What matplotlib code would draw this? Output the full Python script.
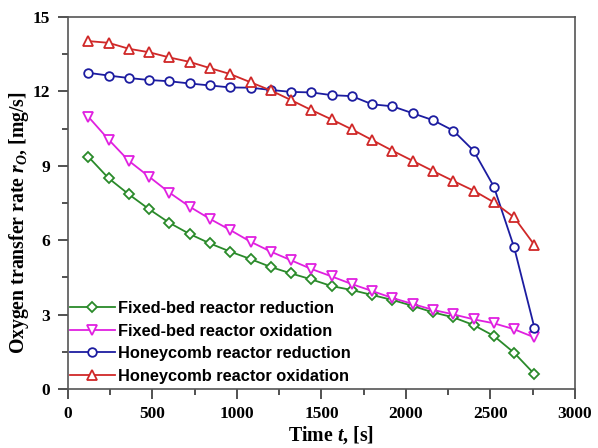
import matplotlib
matplotlib.use("Agg")
import matplotlib.pyplot as plt
from matplotlib.ticker import MultipleLocator

plt.rcParams["mathtext.fontset"] = "custom"
plt.rcParams["mathtext.it"] = "Liberation Serif:italic:bold"
plt.rcParams["mathtext.rm"] = "Liberation Serif:bold"
plt.rcParams["mathtext.bf"] = "Liberation Serif:bold"

time_s = [120, 240, 360, 480, 600, 720, 840, 960, 1080, 1200, 1320, 1440,
          1560, 1680, 1800, 1920, 2040, 2160, 2280, 2400, 2520, 2640, 2760]

fixed_red = [9.37, 8.50, 7.85, 7.25, 6.70, 6.25, 5.87, 5.54, 5.24, 4.92, 4.66, 4.42,
             4.15, 3.99, 3.79, 3.59, 3.35, 3.09, 2.89, 2.58, 2.14, 1.46, 0.60]
fixed_ox = [10.98, 10.06, 9.20, 8.56, 7.92, 7.35, 6.86, 6.41, 5.94, 5.54, 5.19, 4.84,
            4.54, 4.23, 3.95, 3.67, 3.43, 3.19, 3.01, 2.81, 2.65, 2.41, 2.08]
honey_red = [12.75, 12.64, 12.54, 12.46, 12.41, 12.32, 12.24, 12.16, 12.15, 12.06, 11.98, 11.96,
             11.85, 11.81, 11.48, 11.40, 11.12, 10.84, 10.42, 9.61, 8.16, 5.71, 2.47]
honey_ox = [14.03, 13.96, 13.72, 13.58, 13.37, 13.19, 12.94, 12.70, 12.37, 12.04, 11.65, 11.25,
            10.87, 10.47, 10.04, 9.61, 9.20, 8.79, 8.39, 8.00, 7.53, 6.92, 5.81]

labels = ["Fixed-bed reactor reduction", "Fixed-bed reactor oxidation",
          "Honeycomb reactor reduction", "Honeycomb reactor oxidation"]

fig = plt.figure(figsize=(5.98, 4.48), dpi=100)
ax = fig.add_axes([0.1137, 0.1317, 0.8478, 0.8303])

styles = [
    (fixed_red, "#2a8a2a", "D", 5.5),
    (fixed_ox, "#e020e0", "v", 7.0),
    (honey_red, "#1c1ca0", "o", 6.2),
    (honey_ox, "#d02828", "^", 7.0),
]
for (vals, col, mk, ms), lab in zip(styles, labels):
    ax.plot(time_s, vals, color=col, lw=1.3, marker=mk, ms=ms,
            mfc="white", mec=col, mew=1.3, label=lab)

ax.set_xlim(0, 3000)
ax.set_ylim(0, 15)
ax.xaxis.set_major_locator(MultipleLocator(500))
ax.xaxis.set_minor_locator(MultipleLocator(250))
ax.yaxis.set_major_locator(MultipleLocator(3))
ax.yaxis.set_minor_locator(MultipleLocator(1.5))
ax.tick_params(which="both", direction="out", top=False, right=False,
               color="#333333", width=1.2)
ax.tick_params(which="major", length=7, pad=6)
ax.tick_params(axis="x", which="major", pad=5)
ax.tick_params(which="minor", length=4)
for s in ax.spines.values():
    s.set_color("#555555")
    s.set_linewidth(1.2)

for lab in ax.get_xticklabels() + ax.get_yticklabels():
    lab.set_fontfamily("Liberation Serif")
    lab.set_fontweight("bold")
    lab.set_fontsize(12.5)

xl = ax.set_xlabel(r"Time $t$, [s]", fontfamily="Liberation Serif",
                   fontweight="bold", fontsize=14.8)
yl = ax.set_ylabel(r"Oxygen transfer rate $r_O$, [mg/s]",
                   fontfamily="Liberation Serif", fontweight="bold", fontsize=13)

leg = ax.legend(loc="lower left", bbox_to_anchor=(0.0, 0.01), frameon=False,
                prop={"family": "Liberation Sans", "weight": "bold", "size": 12},
                handlelength=2.7, handletextpad=0.2, labelspacing=0.45,
                borderaxespad=0.0, borderpad=0.1)

# fit text sizes to the reference's pixel extents
fig.canvas.draw()
r = fig.canvas.get_renderer()
h = yl.get_window_extent(r).height
yl.set_fontsize(13 * 262 / h)
w = xl.get_window_extent(r).width
xl.set_fontsize(14.8 * 86 / w)
lw_ = leg.get_texts()[0].get_window_extent(r).width
for t in leg.get_texts():
    t.set_fontsize(12 * 216 / lw_)

ax.xaxis.set_label_coords(0.519, -0.095)
ax.yaxis.set_label_coords(-0.072, 0.446)

fig.savefig("out.png", dpi=100)
